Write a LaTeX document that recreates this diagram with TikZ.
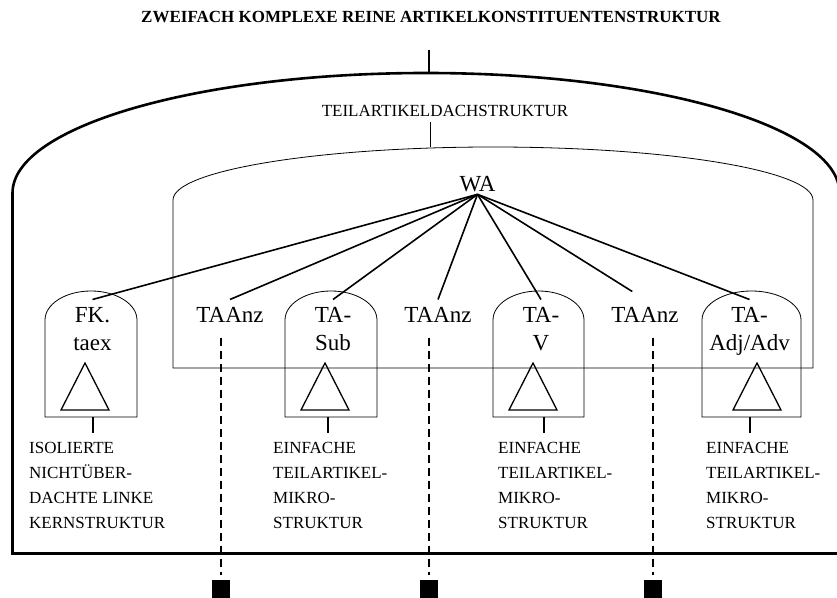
\documentclass[tikz,border=0pt]{standalone}
\usepackage{fontspec}
\setmainfont{Liberation Serif}
\usetikzlibrary{shapes.geometric, arrows}
\tikzstyle{title} = [font=\bfseries\fontsize{17}{20}\selectfont, inner sep=0pt]
\tikzstyle{roofname} = [font=\fontsize{17}{20}\selectfont, inner sep=0pt, outer sep=5pt]
\tikzstyle{root} = [font=\fontsize{23}{28}\selectfont, inner sep=0pt, outer sep=2pt]
\tikzstyle{cat} = [font=\fontsize{23}{28}\selectfont, inner sep=0pt, outer sep=8pt, align=center, anchor=north]
\tikzstyle{info} = [font=\fontsize{17}{25}\selectfont, inner sep=0pt, align=left, anchor=north west]
\tikzstyle{frame} = [line width=2.6pt]
\tikzstyle{arch} = [line width=0.8pt]
\tikzstyle{dome} = [line width=0.8pt]
\tikzstyle{tri} = [line width=1.3pt, line join=miter]
\tikzstyle{edge} = [line width=1.6pt]
\tikzstyle{stem} = [line width=1.5pt]
\tikzstyle{dashline} = [line width=1.5pt, dash pattern=on 8pt off 5pt, shorten <=7pt, shorten >=5pt]
\tikzstyle{box} = [rectangle, fill=black, minimum size=18pt, inner sep=0pt]
\begin{document}
\begin{tikzpicture}[x=1pt, y=1pt]
\useasboundingbox (0,0) rectangle (837,597);

\node (title) [title, anchor=base] at (431,574) {ZWEIFACH KOMPLEXE REINE ARTIKELKONSTITUENTENSTRUKTUR};
\coordinate (crown) at (429,524);
\draw [frame] (12.5,43.5) -- (12.5,404) arc[start angle=180, end angle=0, x radius=413.5pt, y radius=120pt] -- (839.5,43.5) -- cycle;
\draw [frame] (crown) -- ++(0,23);

\node (dach) [roofname, anchor=base] at (445,480) {TEILARTIKELDACHSTRUKTUR};
\coordinate (roof) at (430,450);
\draw [arch] (173,229) -- (173,397) arc[start angle=180, end angle=0, x radius=320pt, y radius=53pt] -- (813,229) -- cycle;
\draw [arch] (roof) -- (roof |- dach.south);

\node (wa) [root, anchor=base] at (477.5,405) {WA};
\node (fk) [cat] at (92.5,297.5) {FK.\\taex};
\node (anz1) [cat] at (230,297.5) {TAAnz};
\node (sub) [cat] at (333,297.5) {TA-\\Sub};
\node (anz2) [cat] at (438,297.5) {TAAnz};
\node (verb) [cat] at (541,297.5) {TA-\\V};
\node (anz3) [cat] at (645,297.5) {TAAnz};
\node (adj) [cat] at (749.5,297.5) {TA-\\Adj/Adv};

\draw [dome] (45,180) -- (45,277) arc[start angle=180, end angle=0, x radius=46pt, y radius=29pt] -- (137,180) -- cycle;
\draw [dome] (285,180) -- (285,277) arc[start angle=180, end angle=0, x radius=46pt, y radius=29pt] -- (377,180) -- cycle;
\draw [dome] (493,180) -- (493,277) arc[start angle=180, end angle=0, x radius=45.5pt, y radius=29pt] -- (584,180) -- cycle;
\draw [dome] (702,180) -- (702,277) arc[start angle=180, end angle=0, x radius=49.5pt, y radius=29pt] -- (801,180) -- cycle;

\draw [tri] (85,234) -- (109,187) -- (61,187) -- cycle;
\draw [tri] (325,234) -- (349,187) -- (301,187) -- cycle;
\draw [tri] (533,234) -- (557,187) -- (509,187) -- cycle;
\draw [tri] (757,234) -- (781,187) -- (733,187) -- cycle;

\draw [edge] (wa.south) -- (fk.north);
\draw [edge] (wa.south) -- (anz1.north);
\draw [edge] (wa.south) -- (sub.north);
\draw [edge] (wa.south) -- (anz2.north);
\draw [edge] (wa.south) -- (verb.north);
\draw [edge, shorten >=15pt] (wa.south) -- (anz3.north);
\draw [edge] (wa.south) -- (adj.north);

\coordinate (fkfoot) at (93,180);
\coordinate (subfoot) at (328,180);
\coordinate (verbfoot) at (544,180);
\coordinate (adjfoot) at (750,180);
\draw [stem] (fkfoot) -- ++(0,-16);
\draw [stem] (subfoot) -- ++(0,-16);
\draw [stem] (verbfoot) -- ++(0,-16);
\draw [stem] (adjfoot) -- ++(0,-16);

\node (fkinfo) [info] at (29,155) {ISOLIERTE\\NICHTÜBER-\\DACHTE LINKE\\KERNSTRUKTUR};
\node (subinfo) [info] at (273,155) {EINFACHE\\TEILARTIKEL-\\MIKRO-\\STRUKTUR};
\node (verbinfo) [info] at (498,155) {EINFACHE\\TEILARTIKEL-\\MIKRO-\\STRUKTUR};
\node (adjinfo) [info] at (706,155) {EINFACHE\\TEILARTIKEL-\\MIKRO-\\STRUKTUR};

\node (sq1) [box] at (221,8) {};
\node (sq2) [box] at (429,8) {};
\node (sq3) [box] at (653,8) {};
\draw [dashline] (sq1.north |- anz1.south) -- (sq1.north);
\draw [dashline] (sq2.north |- anz2.south) -- (sq2.north);
\draw [dashline] (sq3.north |- anz3.south) -- (sq3.north);

\end{tikzpicture}
\end{document}
